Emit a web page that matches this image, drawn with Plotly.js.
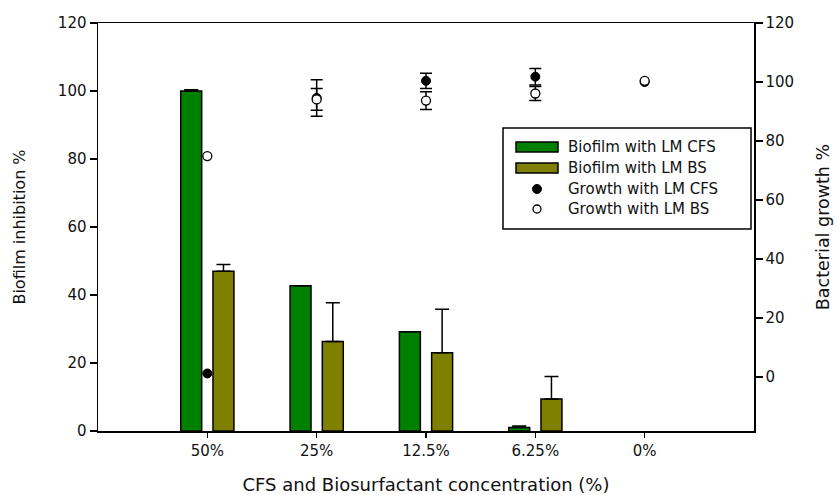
<!DOCTYPE html>
<html>
<head>
<meta charset="utf-8">
<script src="https://cdn.plot.ly/plotly-3.0.1.min.js"></script>
<style>
  html, body { margin: 0; padding: 0; background: #fff; }
  #chart { width: 836px; height: 495px; }
</style>
</head>
<body>
<div id="chart"></div>
<script>
// ---- data ----
const categories = ['50%', '25%', '12.5%', '6.25%', '0%'];
const biofilmCFS = [100, 42.7, 29.2, 1.0, 0];
const biofilmCFSErr = [0.4, 0, 0, 0.5, 0];
const biofilmBS = [47.0, 26.3, 23.0, 9.4, 0];
const biofilmBSErr = [2.0, 11.4, 12.8, 6.6, 0];
const growthCFS = [1.2, 94.6, 100.4, 101.8, 100];
const growthCFSErr = [0, 6.2, 2.6, 2.8, 0];
const growthBS = [74.9, 94.1, 93.7, 96.1, 100.4];
const growthBSErr = [0, 3.7, 3.0, 2.4, 0];
const seriesNames = ['Biofilm with LM CFS', 'Biofilm with LM BS', 'Growth with LM CFS', 'Growth with LM BS'];
const leftTicks = [0, 20, 40, 60, 80, 100, 120];
const rightTicks = [0, 20, 40, 60, 80, 100, 120];

const FONT = 'DejaVu Sans, Arial, sans-serif';
const GREEN = '#008000';
const OLIVE = '#808000';
// zero values/errors draw nothing in the reference
const nz = arr => arr.map(v => (v > 0 ? v : NaN));
const barY = arr => arr.map(v => (v > 0 ? v : null));
const zeros = arr => arr.map(() => 0);

const traces = [
  {
    type: 'bar', name: seriesNames[0], x: categories, y: barY(biofilmCFS),
    marker: { color: GREEN, line: { color: '#000', width: 1.5 } },
    error_y: { type: 'data', symmetric: false, array: nz(biofilmCFSErr), arrayminus: zeros(biofilmCFSErr),
               color: '#000', thickness: 1.5, width: 7 },
    showlegend: false, hoverinfo: 'skip'
  },
  {
    type: 'bar', name: seriesNames[1], x: categories, y: barY(biofilmBS),
    marker: { color: OLIVE, line: { color: '#000', width: 1.5 } },
    error_y: { type: 'data', symmetric: false, array: nz(biofilmBSErr), arrayminus: zeros(biofilmBSErr),
               color: '#000', thickness: 1.5, width: 7 },
    showlegend: false, hoverinfo: 'skip'
  },
  {
    type: 'scatter', mode: 'markers', name: seriesNames[2], x: categories, y: growthCFS, yaxis: 'y2',
    marker: { color: '#000', size: 9, symbol: 'circle', line: { color: '#000', width: 1 } },
    error_y: { type: 'data', array: nz(growthCFSErr), color: '#000', thickness: 1.5, width: 6 },
    showlegend: false, hoverinfo: 'skip'
  },
  {
    type: 'scatter', mode: 'markers', name: seriesNames[3], x: categories, y: growthBS, yaxis: 'y2',
    marker: { color: '#fff', size: 9, symbol: 'circle', line: { color: '#000', width: 1.3 } },
    error_y: { type: 'data', array: nz(growthBSErr), color: '#000', thickness: 1.5, width: 6 },
    showlegend: false, hoverinfo: 'skip'
  }
];

// ---- hand-built legend (paper coordinates) ----
const PL = 98, PR = 754, PT = 23, PB = 431;
const px = v => (v - PL) / (PR - PL);
const py = v => (PB - v) / (PB - PT);
const rowY = [147, 168, 189, 209];
const shapes = [
  { type: 'rect', xref: 'paper', yref: 'paper', x0: px(503), x1: px(751), y0: py(229), y1: py(128),
    line: { color: '#000', width: 1.5 }, fillcolor: '#fff', layer: 'above' },
  { type: 'rect', xref: 'paper', yref: 'paper', x0: px(516), x1: px(558), y0: py(rowY[0] + 5), y1: py(rowY[0] - 5),
    line: { color: '#000', width: 1.5 }, fillcolor: GREEN, layer: 'above' },
  { type: 'rect', xref: 'paper', yref: 'paper', x0: px(516), x1: px(558), y0: py(rowY[1] + 5), y1: py(rowY[1] - 5),
    line: { color: '#000', width: 1.5 }, fillcolor: OLIVE, layer: 'above' },
  { type: 'circle', xref: 'paper', yref: 'paper', x0: px(537 - 4.5), x1: px(537 + 4.5), y0: py(rowY[2] + 4.5), y1: py(rowY[2] - 4.5),
    line: { color: '#000', width: 1 }, fillcolor: '#000', layer: 'above' },
  { type: 'circle', xref: 'paper', yref: 'paper', x0: px(537 - 4), x1: px(537 + 4), y0: py(rowY[3] + 4), y1: py(rowY[3] - 4),
    line: { color: '#000', width: 1.3 }, fillcolor: '#fff', layer: 'above' }
];
const annotations = seriesNames.map((name, i) => ({
  xref: 'paper', yref: 'paper', x: px(566), y: py(rowY[i]), xanchor: 'left', yanchor: 'middle',
  text: name, showarrow: false, font: { family: FONT, size: 15, color: '#111' }
}));

const layout = {
  width: 836, height: 495,
  margin: { l: PL, r: 836 - PR, t: PT, b: 495 - PB, pad: 0 },
  paper_bgcolor: '#fff', plot_bgcolor: '#fff',
  font: { family: FONT, size: 15, color: '#111' },
  showlegend: false,
  barmode: 'group', bargap: 0.41, bargroupgap: 0.35,
  xaxis: {
    type: 'category', range: [-1, 5], showgrid: false, zeroline: false,
    showline: true, linecolor: '#000', linewidth: 1.5, mirror: true,
    ticks: 'outside', ticklen: 5, tickwidth: 1.5, tickcolor: '#000',
    tickfont: { family: FONT, size: 15, color: '#111' },
    title: { text: 'CFS and Biosurfactant concentration (%)', font: { family: FONT, size: 18, color: '#111' }, standoff: 22 },
    automargin: false, fixedrange: true
  },
  yaxis: {
    range: [0, 120], tickvals: leftTicks, showgrid: false, zeroline: false,
    showline: true, linecolor: '#000', linewidth: 1.5, mirror: false,
    ticks: 'outside', ticklen: 7, tickwidth: 1.5, tickcolor: '#000',
    tickfont: { family: FONT, size: 15, color: '#111' },
    title: { text: 'Biofilm inhibition %', font: { family: FONT, size: 16, color: '#111' }, standoff: 28 },
    automargin: false, fixedrange: true
  },
  yaxis2: {
    overlaying: 'y', side: 'right', range: [-18.3, 120], tickvals: rightTicks,
    showgrid: false, zeroline: false,
    showline: true, linecolor: '#000', linewidth: 1.5,
    ticks: 'outside', ticklen: 7, tickwidth: 1.5, tickcolor: '#000',
    tickfont: { family: FONT, size: 15, color: '#111' },
    title: { text: 'Bacterial growth %', font: { family: FONT, size: 17.5, color: '#111' }, standoff: 23 },
    automargin: false, fixedrange: true
  },
  shapes: shapes,
  annotations: annotations
};

Plotly.newPlot('chart', traces, layout, { displayModeBar: false, staticPlot: true });
</script>
</body>
</html>
